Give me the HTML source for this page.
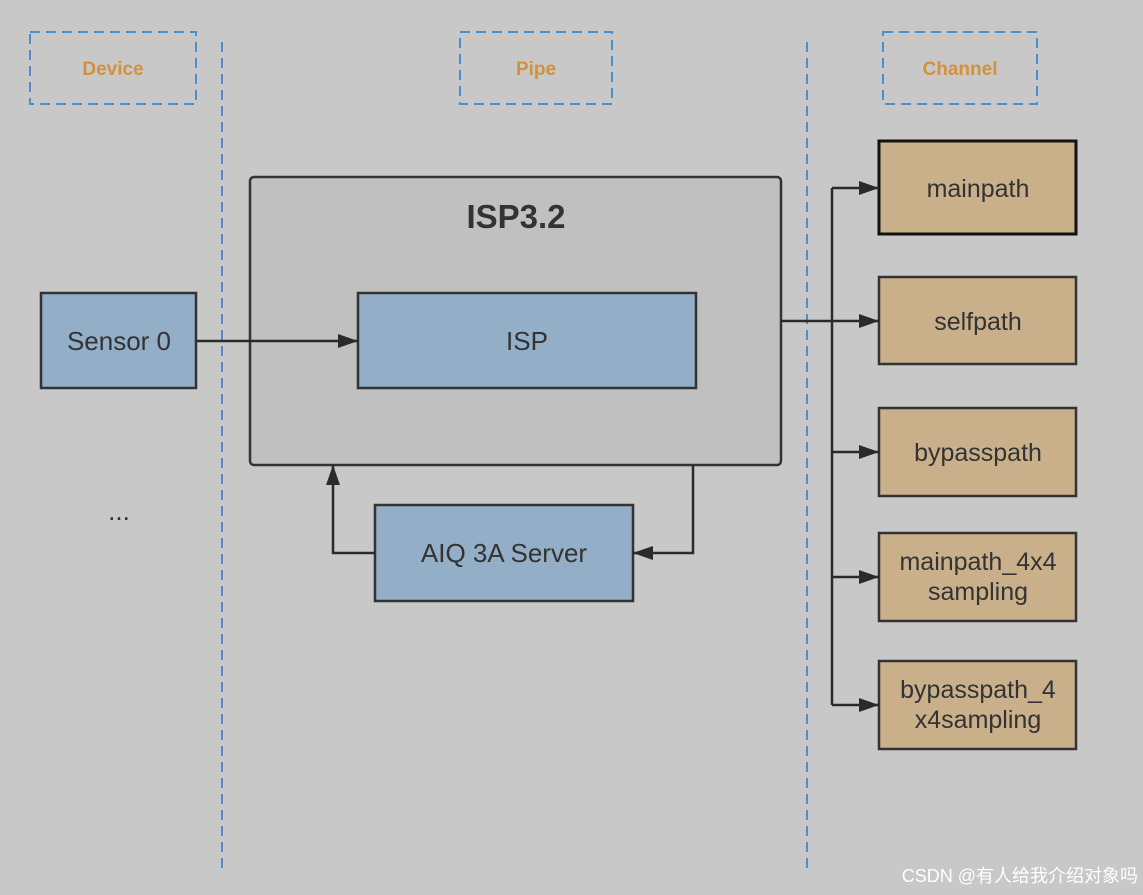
<!DOCTYPE html><html><head><style>body{margin:0;background:#c8c8c8}svg{display:block}text{font-family:"Liberation Sans","Noto Sans CJK SC",sans-serif}</style></head><body>
<svg width="1143" height="895" viewBox="0 0 1143 895" xmlns="http://www.w3.org/2000/svg">
<defs>
<marker id="b" markerWidth="22" markerHeight="14" refX="20" refY="7" orient="auto" markerUnits="userSpaceOnUse"><path d="M0,0 L20,7 L0,14Z" fill="#2a2a2a"/></marker></defs>
<rect width="1143" height="895" fill="#c8c8c8"/>
<g fill="none" stroke="#4a90cc" stroke-width="2" stroke-dasharray="10,6">
<rect x="30" y="32" width="166" height="72"/><rect x="460" y="32" width="152" height="72"/><rect x="883" y="32" width="154" height="72"/>
<line x1="222" y1="42" x2="222" y2="872"/><line x1="807" y1="42" x2="807" y2="872"/></g>
<g font-size="19" font-weight="bold" fill="#d4913a" text-anchor="middle"><text x="113" y="75">Device</text><text x="536" y="75">Pipe</text><text x="960" y="75">Channel</text></g>
<rect x="250" y="177" width="531" height="288" rx="4" fill="#c0c0c0" stroke="#333" stroke-width="2.5"/>
<text x="516" y="228" font-size="33" font-weight="bold" fill="#333" text-anchor="middle">ISP3.2</text>
<g fill="#93afc7" stroke="#333" stroke-width="2.5"><rect x="41" y="293" width="155" height="95"/><rect x="358" y="293" width="338" height="95"/><rect x="375" y="505" width="258" height="96"/></g>
<g fill="#c9b08a" stroke="#333" stroke-width="2.5"><rect x="879" y="141" width="197" height="93" stroke="#111" stroke-width="3"/><rect x="879" y="277" width="197" height="87"/><rect x="879" y="408" width="197" height="88"/><rect x="879" y="533" width="197" height="88"/><rect x="879" y="661" width="197" height="88"/></g>
<g font-size="26" fill="#333" text-anchor="middle"><text x="119" y="350">Sensor 0</text><text x="527" y="350">ISP</text><text x="504" y="562">AIQ 3A Server</text><text x="119" y="520">...</text>
<g font-size="25"><text x="978" y="197">mainpath</text><text x="978" y="330">selfpath</text><text x="978" y="461">bypasspath</text><text x="978" y="570">mainpath_4x4</text><text x="978" y="600">sampling</text><text x="978" y="698">bypasspath_4</text><text x="978" y="728">x4sampling</text></g></g>
<g fill="none" stroke="#2a2a2a" stroke-width="2.5">
<line x1="196" y1="341" x2="358" y2="341" marker-end="url(#b)"/>
<polyline points="693,465 693,553 633,553" marker-end="url(#b)"/>
<polyline points="375,553 333,553 333,465" marker-end="url(#b)"/>
<line x1="781" y1="321" x2="879" y2="321" marker-end="url(#b)"/>
<line x1="832" y1="188" x2="832" y2="705"/>
<line x1="832" y1="188" x2="879" y2="188" marker-end="url(#b)"/>
<line x1="832" y1="452" x2="879" y2="452" marker-end="url(#b)"/>
<line x1="832" y1="577" x2="879" y2="577" marker-end="url(#b)"/>
<line x1="832" y1="705" x2="879" y2="705" marker-end="url(#b)"/></g>
<text x="1138" y="882" font-size="18" fill="#fff" text-anchor="end">CSDN @有人给我介绍对象吗</text>
</svg></body></html>
